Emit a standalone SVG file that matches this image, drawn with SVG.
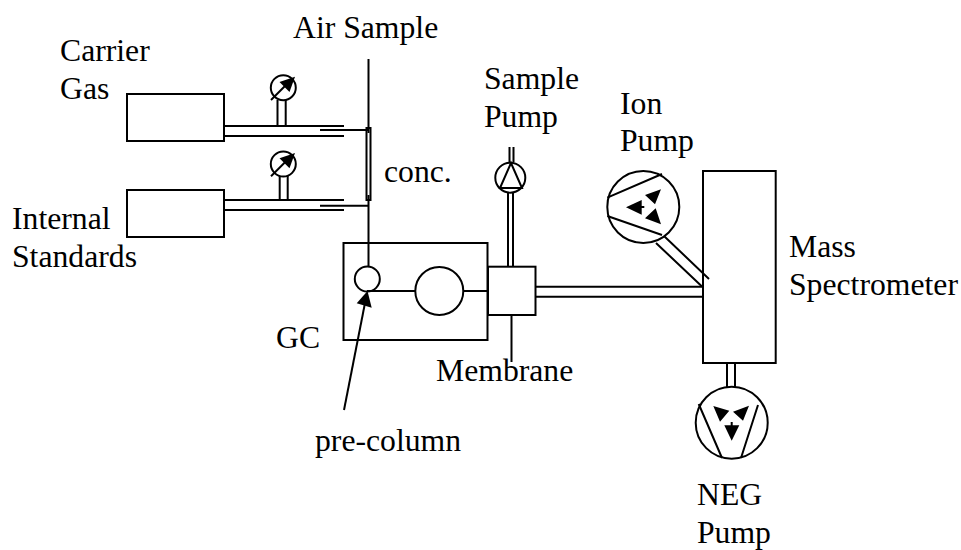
<svg xmlns="http://www.w3.org/2000/svg" width="961" height="550" viewBox="0 0 961 550">
<style>
text{font-family:"Liberation Serif","Times New Roman",serif;font-size:31.700px;fill:#000}
.l{fill:none;stroke:#000;stroke-width:2}
.w{fill:#fff;stroke:#000;stroke-width:2}
.k{fill:#000;stroke:none}
</style>
<rect width="961" height="550" fill="#fff"/>
<g id="carrier-gas"><rect class="w" x="127" y="94" width="97" height="47"/><text x="60" y="61">Carrier</text><text x="60" y="99">Gas</text></g>
<g id="internal-standards"><rect class="w" x="127" y="190" width="97" height="47"/><text x="12" y="229">Internal</text><text x="12" y="267">Standards</text></g>
<g id="air-sample"><text x="293" y="38">Air Sample</text></g>
<g id="gauge-1"><circle class="l" cx="283.300" cy="87.700" r="12.500"/><path class="l" d="M271 100L288 83"/><path class="k" d="M295 76.700L279.500 82L289.500 92Z"/></g>
<g id="gauge-2"><circle class="l" cx="283.300" cy="164" r="12.500"/><path class="l" d="M271 176.300L288 159.300"/><path class="k" d="M295 153L279.500 158.300L289.500 168.300Z"/></g>
<g id="concentrator"><rect class="w" x="366.500" y="128" width="4" height="72"/><text x="384" y="182">conc.</text></g>
<g id="gc"><rect class="l" x="343.500" y="243" width="144" height="97"/><text x="276" y="348">GC</text></g>
<g id="pre-column-node"><circle class="w" cx="367.300" cy="279" r="12.500"/><text x="315" y="451">pre-column</text><path class="l" d="M344 410L365 303"/><path class="k" d="M367.500 291L356.700 303.300L371.700 307.700Z"/></g>
<g id="detector"><circle class="w" cx="439.300" cy="291" r="24"/></g>
<g id="membrane"><rect class="w" x="488" y="266.700" width="47.500" height="48.300"/><text x="436" y="381">Membrane</text></g>
<g id="sample-pump"><circle class="w" cx="510.300" cy="177.700" r="15"/><path class="l" d="M511 163L500 188H522Z"/><text x="484" y="89">Sample</text><text x="484" y="127">Pump</text></g>
<g id="ion-pump"><circle class="w" cx="643.300" cy="207" r="36"/><path class="l" d="M607.300 197.700L662 174M607.300 216L662 235M641 207H644.300"/><path class="k" d="M626 207.300L641.700 200V214.700ZM661 189.300L645 195L655 204.300ZM661 224.300L645 218.300L655.700 208.300Z"/><text x="620" y="114">Ion</text><text x="620" y="151">Pump</text></g>
<g id="mass-spectrometer"><rect class="w" x="703" y="171" width="72.700" height="192"/><text x="789" y="257">Mass</text><text x="789" y="295">Spectrometer</text></g>
<g id="neg-pump"><circle class="w" cx="731.700" cy="422.700" r="36"/><path class="l" d="M698.700 404L722 458M758 405L741 458M731.700 422V426"/><path class="k" d="M713.300 406L729.300 410.700L720 421.700ZM749 405.700L733 411.700L743 420.700ZM724.300 425.300H739.300L731.700 440.700Z"/><text x="697" y="505">NEG</text><text x="697" y="543">Pump</text></g>
<g id="connectors">
<path class="l" d="M368.500 59V133M368.500 195V267M224 126H344M224 136H344M320 130H368M224 200H344M224 210H344M320 205.700H368"/>
<path class="l" d="M277.500 100V126M285.700 100V126M279.700 176V200M287.700 176V200"/>
<path class="l" d="M508 193V267M513 193V267M509.500 147V162M513.500 147V162"/>
<path class="l" d="M536 286.700H703M536 296.700H703M511.500 315V362M367 291H415M464 291H488"/>
<path class="l" d="M656 243L702 286.500M664 236L709 279M727 363V387M735 363V387"/>
</g>
</svg>
